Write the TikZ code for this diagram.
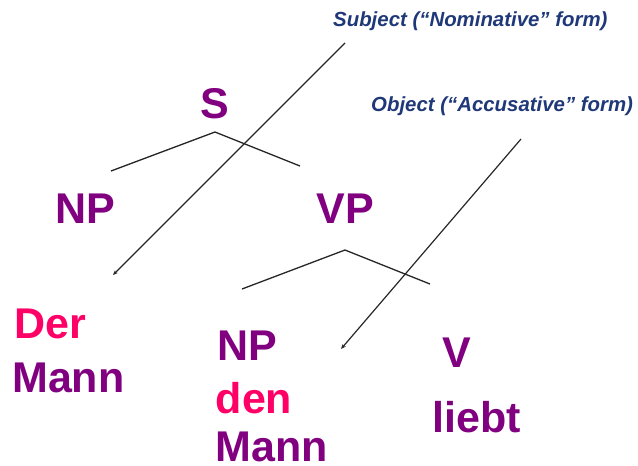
\documentclass[tikz,border=0pt]{standalone}
\usepackage{fontspec}
\setmainfont{Liberation Sans}
\usetikzlibrary{arrows.meta}
\definecolor{catpurple}{RGB}{128,0,128}
\definecolor{wordred}{RGB}{255,0,102}
\definecolor{noteblue}{RGB}{31,56,120}
\tikzset{
  cat/.style={text=catpurple,font=\fontsize{43}{43}\selectfont\bfseries,inner sep=0pt,anchor=base},
  word/.style={text=wordred,font=\fontsize{43}{43}\selectfont\bfseries,inner sep=0pt,anchor=base},
  note/.style={text=noteblue,font=\fontsize{20.4}{21}\selectfont\bfseries\itshape,inner sep=0pt,anchor=base west},
  branch/.style={draw=black!85,line width=1.3pt},
  pointer/.style={draw=black!85,line width=1.2pt,-{Stealth[length=5pt,width=4pt]}}
}
\begin{document}
\begin{tikzpicture}[x=1pt,y=-1pt]
\useasboundingbox (0,0) rectangle (638,466);
% notes
\node[note] (subj) at (333,26) {Subject (“Nominative” form)};
\node[note] (obj) at (371,111) {Object (“Accusative” form)};
% categories
\node[cat] (S) at (215,118) {S};
\node[cat] (NP1) at (85,223) {NP};
\node[cat] (VP) at (345,223) {VP};
\node[cat] (NP2) at (247,360) {NP};
\node[cat] (V) at (457,367) {V};
% words
\node[word,anchor=base west] (der) at (14,338) {Der};
\node[cat,anchor=base west] (mann1) at (12,392) {Mann};
\node[word] (den) at (254,413) {den};
\node[cat] (mann2) at (272,461) {Mann};
\node[cat] (liebt) at (477,432) {liebt};
% branches
\coordinate (Stop) at (215,132);
\coordinate (Sleft) at (111,171);
\coordinate (Sright) at (300,166);
\coordinate (VPtop) at (345,250);
\coordinate (VPleft) at (242,289);
\coordinate (VPright) at (430,284);
\draw[branch] (Sleft) -- (Stop) -- (Sright);
\draw[branch] (VPleft) -- (VPtop) -- (VPright);
% pointers from the notes to the nouns
\coordinate (subjtail) at (345,43);
\coordinate (subjhead) at (113,275);
\coordinate (objtail) at (521,139);
\coordinate (objhead) at (341,349);
\draw[pointer] (subjtail) -- (subjhead);
\draw[pointer] (objtail) -- (objhead);
\end{tikzpicture}
\end{document}
